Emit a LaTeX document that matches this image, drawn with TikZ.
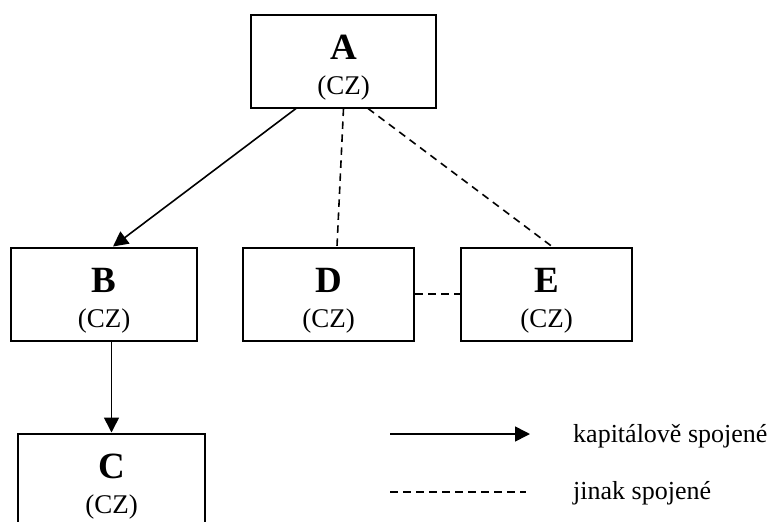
\documentclass[tikz,border=0pt]{standalone}
\usepackage{fontspec}
\setmainfont{Liberation Serif}
\usetikzlibrary{arrows.meta,calc}
\tikzset{
  entity/.style={draw=black, line width=2pt, minimum height=93pt, inner sep=0pt},
  lett/.style={font=\fontsize{37}{40}\selectfont\bfseries, inner sep=0pt},
  cz/.style={font=\fontsize{27}{30}\selectfont, inner sep=0pt},
  legtext/.style={font=\fontsize{26}{29}\selectfont, inner sep=0pt, anchor=west},
  capital/.style={line width=1.6pt, -{Triangle[length=15pt,width=15pt]}},
  other/.style={line width=1.6pt, dash pattern=on 7.5pt off 5.5pt},
}
\begin{document}
\begin{tikzpicture}[x=1pt,y=-1pt]
\useasboundingbox (0,0) rectangle (774,522);
\clip (0,0) rectangle (774,522);
% boxes
\node[entity, minimum width=185pt] (A) at (343.5,61) {};
\node[entity, minimum width=186pt] (B) at (104,294) {};
\node[entity, minimum width=171pt] (D) at (328.5,294) {};
\node[entity, minimum width=171pt] (E) at (546.5,294) {};
\node[entity, minimum width=187pt] (C) at (111.5,480) {};
% labels
\node[lett] (At) at ($(A.center)+(0,-14)$) {A};
\node[cz]   (Ac) at ($(A.center)+(0,27)$) {(CZ)};
\node[lett] (Bt) at ($(B.center)+(0,-14)$) {B};
\node[cz]   (Bc) at ($(B.center)+(0,27)$) {(CZ)};
\node[lett] (Dt) at ($(D.center)+(0,-14)$) {D};
\node[cz]   (Dc) at ($(D.center)+(0,27)$) {(CZ)};
\node[lett] (Et) at ($(E.center)+(0,-14)$) {E};
\node[cz]   (Ec) at ($(E.center)+(0,27)$) {(CZ)};
\node[lett] (Ct) at ($(C.center)+(0,-14)$) {C};
\node[cz]   (Cc) at ($(C.center)+(0,27)$) {(CZ)};
% connectors
\draw[capital] ([xshift=46pt]A.south west) -- ([xshift=9pt]B.north);
\draw[other] (A.south) -- ([xshift=8.5pt]D.north);
\draw[other] ([xshift=24.5pt]A.south) -- ([xshift=5.5pt]E.north);
\draw[other] (D.east) -- (E.west);
\draw[capital] (C.north |- B.south) -- (C.north);
% legend
\coordinate (l1a) at (390,434);
\coordinate (l1b) at (530,434);
\coordinate (l2a) at (390,492);
\coordinate (l2b) at (526,492);
\draw[capital] (l1a) -- (l1b);
\draw[other] (l2a) -- (l2b);
\node[legtext] (k1) at (573,436) {kapitálově spojené};
\node[legtext] (k2) at (573,493) {jinak spojené};
\end{tikzpicture}
\end{document}
